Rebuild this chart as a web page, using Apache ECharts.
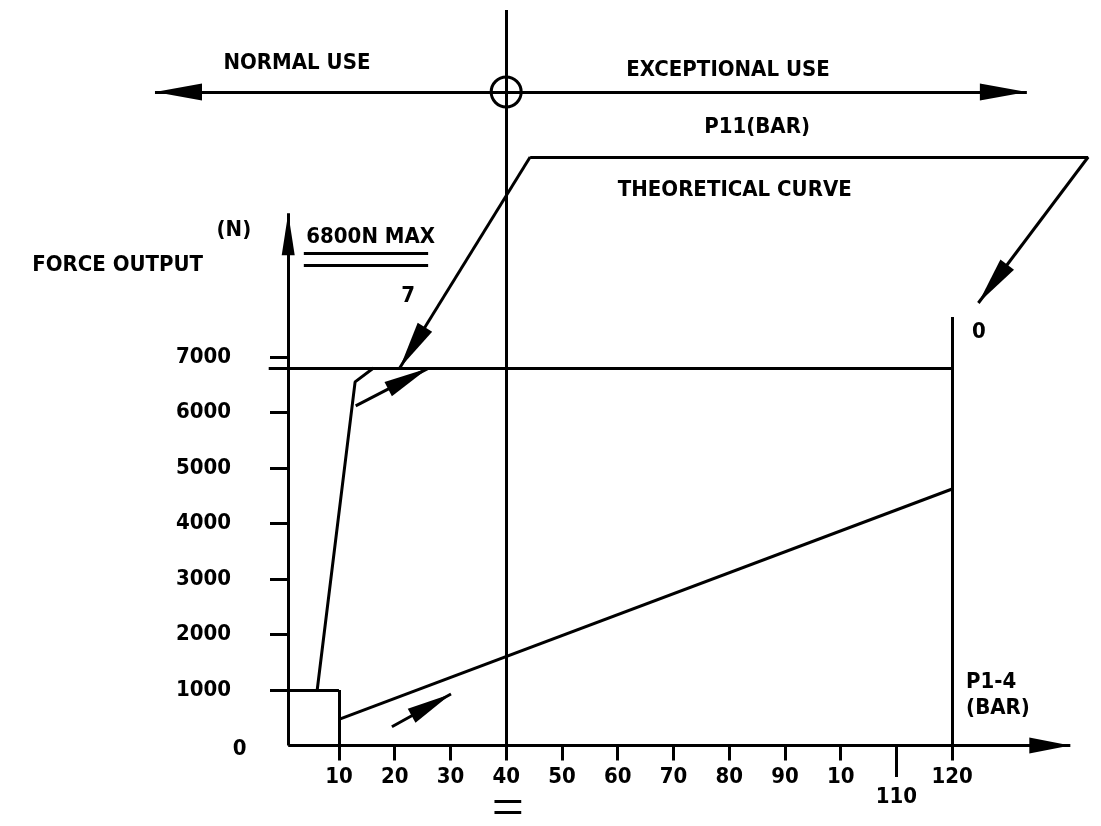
<!DOCTYPE html>
<html><head><meta charset="utf-8">
<script src="https://cdn.jsdelivr.net/npm/echarts@6/dist/echarts.min.js"></script>
<style>html,body{margin:0;padding:0;background:#fff}#c{width:1101px;height:826px}</style>
</head><body><div id="c"></div>
<script>
// ---------------- data ----------------
const xTicks = [10, 20, 30, 40, 50, 60, 70, 80, 90, 100, 110, 120];
const xTickLabels = ['10', '20', '30', '40', '50', '60', '70', '80', '90', '10', '110', '120'];
const yTicks = [1000, 2000, 3000, 4000, 5000, 6000, 7000];
const yTickLabels = ['1000', '2000', '3000', '4000', '5000', '6000', '7000'];
const xRange = [-50.8, 146.7];
const yRange = [-1450, 13430];
const yAxisAt = 0.9;            // pressure where force axis stands
const xAxisEnd = 141.2;         // pressure axis arrow tip
const yAxisEnd = 9590;          // force axis arrow tip
const maxForce = 6800;          // 6800N MAX
const pressureLimit = 120;      // P1-4 limit (bar)
const pressureLimitTop = 7720;
const useBoundary = 40;         // normal / exceptional use boundary (bar)
const useBoundaryTop = 13250;
const useArrowLevel = 11773;
const useArrowLeft = -23;
const useArrowRight = 133.4;
const calloutTop = 10602;
const calloutLeft = 44.3;
const calloutRight = 144.4;
const calloutTipLeft = [20.9, 6800];
const calloutTipRight = [124.7, 7972];
const rampCurve = [[6.1, 1000], [12.9, 6550], [16.2, 6800]];       // P11 curve
const lowCurve = [[10, 472], [120, 4621]];                         // P1-4 curve
const boxCorner = [10, 1000];
const rampArrow = [[13.0, 6117], [26.0, 6795]];
const lowArrow = [[19.5, 339], [30.1, 928]];
const underline = [[3.7, 8867], [26.0, 8867], [3.7, 8656], [26.0, 8656]];
const boundaryMark = [[37.9, -1000], [42.7, -1000], [37.9, -1198], [42.7, -1198]];
const tick110Bottom = -567;
const annotations = [
  { text: 'NORMAL USE', at: [2.46, 12295] },
  { text: 'EXCEPTIONAL USE', at: [79.8, 12169] },
  { text: 'P11(BAR)', at: [85.0, 11142] },
  { text: 'THEORETICAL CURVE', at: [81.0, 10007] },
  { text: 'FORCE OUTPUT', at: [-29.7, 8656] },
  { text: '(N)', at: [-8.85, 9287] },
  { text: '6800N MAX', at: [15.7, 9161] },
  { text: '7', at: [22.4, 8098] },
  { text: '0', at: [124.8, 7450] },
  { text: 'P1-4\n(BAR)', at: [122.5, 910], align: 'left' },
  { text: '0', at: [-7.8, -63] }
];
// ---------------- chart ----------------
const FONT = "'DejaVu Sans Condensed', 'DejaVu Sans', sans-serif";
const BLACK = '#000';
const LW = 3;
const FS = 22;

function seg(a, b) { return [{ coord: a }, { coord: b }]; }
function arrow(a, b, w, l) {
  return [{ coord: a, symbol: 'none' },
          { coord: b, symbol: 'triangle', symbolSize: [w, l], symbolOffset: [0, '50%'] }];
}

const lines = [
  arrow([yAxisAt, 0], [yAxisAt, yAxisEnd], 13, 42),
  arrow([yAxisAt, 0], [xAxisEnd, 0], 16, 41),
  arrow([useBoundary, useArrowLevel], [useArrowLeft, useArrowLevel], 17, 47),
  arrow([useBoundary, useArrowLevel], [useArrowRight, useArrowLevel], 17, 47),
  arrow([calloutLeft, calloutTop], calloutTipLeft, 17, 48),
  arrow([calloutRight, calloutTop], calloutTipRight, 17, 48),
  seg([calloutLeft, calloutTop], [calloutRight, calloutTop]),
  arrow(rampArrow[0], rampArrow[1], 16, 45),
  arrow(lowArrow[0], lowArrow[1], 16, 45),
  seg([-2.6, maxForce], [pressureLimit, maxForce]),
  seg([pressureLimit, 0], [pressureLimit, pressureLimitTop]),
  seg([useBoundary, 0], [useBoundary, useBoundaryTop]),
  seg([110, 0], [110, tick110Bottom]),
  seg(underline[0], underline[1]),
  seg(underline[2], underline[3]),
  seg(boundaryMark[0], boundaryMark[1]),
  seg(boundaryMark[2], boundaryMark[3]),
  seg([yAxisAt, boxCorner[1]], boxCorner),
  seg(boxCorner, [boxCorner[0], 0])
];

const chart = echarts.init(document.getElementById('c'), null, { renderer: 'canvas' });
chart.setOption({
  animation: false,
  backgroundColor: '#fff',
  grid: { left: 0, right: 0, top: 0, bottom: 0, containLabel: false },
  xAxis: {
    type: 'value', min: xRange[0], max: xRange[1], position: 'bottom',
    offset: -(826 - 745.5),
    axisLine: { show: false, onZero: false },
    splitLine: { show: false },
    axisTick: { show: true, customValues: xTicks, length: 15, lineStyle: { color: BLACK, width: LW } },
    axisLabel: {
      customValues: xTicks, margin: 21, color: BLACK, fontFamily: FONT, fontSize: FS, fontWeight: 'bold',
      formatter: v => {
        const i = xTicks.indexOf(v);
        const t = i >= 0 ? xTickLabels[i] : '';
        return v === 110 ? '{low|' + t + '}' : t;
      },
      rich: { low: { padding: [20, 0, 0, 0], fontFamily: FONT, fontSize: FS, fontWeight: 'bold', color: BLACK } }
    }
  },
  yAxis: {
    type: 'value', min: yRange[0], max: yRange[1], position: 'left',
    offset: -288,
    axisLine: { show: false, onZero: false },
    splitLine: { show: false },
    axisTick: { show: true, customValues: yTicks, length: 18, lineStyle: { color: BLACK, width: LW } },
    axisLabel: {
      customValues: yTicks, margin: 57, color: BLACK, fontFamily: FONT, fontSize: FS, fontWeight: 'bold',
      formatter: v => { const i = yTicks.indexOf(v); return i >= 0 ? yTickLabels[i] : ''; }
    }
  },
  series: [
    {
      type: 'line', data: rampCurve, symbol: 'none', clip: false, silent: true,
      lineStyle: { color: BLACK, width: LW }
    },
    {
      type: 'line', data: lowCurve, symbol: 'none', clip: false, silent: true,
      lineStyle: { color: BLACK, width: LW },
      markLine: {
        silent: true, animation: false, symbol: 'none',
        label: { show: false },
        lineStyle: { color: BLACK, width: LW, type: 'solid' },
        itemStyle: { color: BLACK },
        emphasis: { disabled: true },
        data: lines
      }
    },
    {
      type: 'scatter', data: [[useBoundary, useArrowLevel]], symbol: 'circle', symbolSize: 30,
      silent: true, clip: false,
      itemStyle: { color: 'rgba(0,0,0,0)', borderColor: BLACK, borderWidth: LW, opacity: 1 }
    },
    {
      type: 'scatter', symbolSize: 0, silent: true, clip: false,
      itemStyle: { opacity: 1 },
      data: annotations.map(a => ({
        value: a.at, name: a.text,
        label: {
          show: true, position: 'inside', formatter: a.text,
          align: a.align || 'center', verticalAlign: 'middle',
          color: BLACK, fontFamily: FONT, fontSize: FS, fontWeight: 'bold', lineHeight: 26
        }
      }))
    }
  ]
});
</script></body></html>
